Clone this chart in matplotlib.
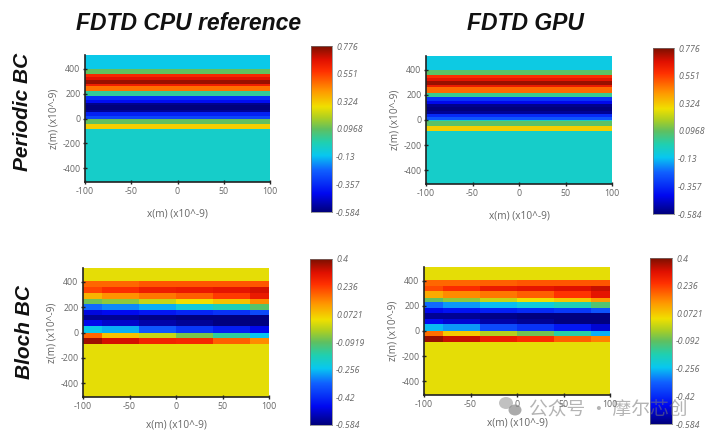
#!/usr/bin/env python3
# FDTD CPU / GPU field maps, periodic and Bloch boundary conditions
import matplotlib
matplotlib.use('Agg')
import matplotlib.pyplot as plt
import numpy as np
from matplotlib.colors import LinearSegmentedColormap
from matplotlib.patches import Ellipse

plt.rcParams['font.family'] = ['Open Sans', 'Noto Sans CJK SC', 'DejaVu Sans']
plt.rcParams['axes.unicode_minus'] = False

W, H = 725, 434

### Data ###
# periodic BC : one value per z band, no variation along x
periodic_z = [-510, -85, -45, -8, 0, 20, 50, 70, 105, 128, 150, 180, 218, 262, 280, 310, 335, 355, 395, 510]
periodic_cpu = [-0.055, 0.31, 0.10, -0.05, -0.30, -0.38, -0.55, -0.584, -0.56, -0.42, -0.35, 0.02, 0.47,
                0.62, 0.74, 0.66, 0.60, 0.10, -0.11]
periodic_gpu = [-0.055, 0.31, 0.09, -0.04, -0.27, -0.36, -0.55, -0.584, -0.56, -0.44, -0.34, 0.03, 0.48,
                0.63, 0.74, 0.65, 0.58, 0.09, -0.10]

# Bloch BC : bands along z (rows), columns along x
bloch_x = [-100, -80, -40, 0, 40, 80, 100]
bloch_z = [-510, -87, -40, 0, 52, 97, 140, 180, 228, 262, 315, 360, 405, 510]
bloch_cpu = [
    [0.03, 0.03, 0.03, 0.03, 0.03, 0.03],
    [0.37, 0.33, 0.28, 0.27, 0.20, 0.15],
    [0.19, 0.08, 0.00, -0.07, -0.15, -0.25],
    [-0.24, -0.27, -0.35, -0.40, -0.44, -0.48],
    [-0.48, -0.51, -0.54, -0.56, -0.58, -0.58],
    [-0.56, -0.56, -0.57, -0.58, -0.58, -0.58],
    [-0.49, -0.47, -0.45, -0.43, -0.41, -0.37],
    [-0.33, -0.30, -0.27, -0.22, -0.18, -0.10],
    [-0.08, -0.05, 0.00, 0.04, 0.08, 0.15],
    [0.10, 0.14, 0.17, 0.20, 0.24, 0.30],
    [0.23, 0.26, 0.29, 0.30, 0.31, 0.33],
    [0.19, 0.19, 0.21, 0.21, 0.21, 0.21],
    [0.03, 0.03, 0.03, 0.03, 0.03, 0.03],
]
bloch_gpu = [
    [0.03, 0.03, 0.03, 0.03, 0.03, 0.03],
    [0.38, 0.34, 0.29, 0.26, 0.20, 0.16],
    [0.18, 0.07, -0.02, -0.08, -0.16, -0.27],
    [-0.26, -0.29, -0.37, -0.41, -0.45, -0.50],
    [-0.47, -0.50, -0.54, -0.56, -0.58, -0.58],
    [-0.56, -0.56, -0.57, -0.58, -0.58, -0.58],
    [-0.48, -0.46, -0.44, -0.42, -0.40, -0.36],
    [-0.33, -0.29, -0.26, -0.22, -0.18, -0.11],
    [-0.09, -0.05, 0.00, 0.04, 0.07, 0.13],
    [0.11, 0.15, 0.17, 0.20, 0.25, 0.31],
    [0.22, 0.26, 0.30, 0.31, 0.32, 0.34],
    [0.19, 0.19, 0.20, 0.21, 0.21, 0.21],
    [0.03, 0.03, 0.03, 0.03, 0.03, 0.03],
]

periodic_range = (-0.584, 0.776)
bloch_range = (-0.584, 0.4)
periodic_ticks = ['0.776', '0.551', '0.324', '0.0968', '-0.13', '-0.357', '-0.584']
bloch_ticks_cpu = ['0.4', '0.236', '0.0721', '-0.0919', '-0.256', '-0.42', '-0.584']
bloch_ticks_gpu = ['0.4', '0.236', '0.0721', '-0.092', '-0.256', '-0.42', '-0.584']

x_ticks = [-100, -50, 0, 50, 100]
z_ticks = [-400, -200, 0, 200, 400]

cmap = LinearSegmentedColormap.from_list('fdtd', [
    (0.00, '#00007c'), (0.11, '#0008f0'), (0.25, '#1060ff'), (0.34, '#08c8f0'),
    (0.42, '#20d0b0'), (0.50, '#60c060'), (0.57, '#b0d020'), (0.635, '#f0e000'),
    (0.73, '#ff9800'), (0.85, '#ff3000'), (0.92, '#e01000'), (1.00, '#7c1000')])

fig = plt.figure(figsize=(W / 100, H / 100), dpi=100)
GREY = '#666666'


def axes_px(x0, y0, x1, y1):
    # axes from pixel box, y counted from the top of the picture
    return fig.add_axes([x0 / W, 1 - y1 / H, (x1 - x0) / W, (y1 - y0) / H])


def panel(box, cbox, x, z, values, vrange, labels, xpad):
    ax = axes_px(*box)
    ax.pcolormesh(x, z, np.array(values), cmap=cmap, vmin=vrange[0], vmax=vrange[1], shading='flat')
    ax.set_xlim(-100, 100)
    ax.set_ylim(-510, 510)
    ax.set_xticks(x_ticks)
    ax.set_yticks(z_ticks)
    ax.tick_params(labelsize=6.3, labelcolor=GREY, length=3.5, width=1, color='#222222', pad=1.5,
                   direction='inout')
    for s in ('top', 'right'):
        ax.spines[s].set_visible(False)
    for s in ('left', 'bottom'):
        ax.spines[s].set_linewidth(1.2)
        ax.spines[s].set_color('#222222')
    ax.set_xlabel('x(m) (x10^-9)', fontsize=7.3, color=GREY, labelpad=xpad)
    ax.set_ylabel('z(m) (x10^-9)', fontsize=7.3, color=GREY, labelpad=2)

    cax = axes_px(*cbox)
    grad = np.linspace(vrange[0], vrange[1], 256).reshape(-1, 1)
    cax.imshow(grad, cmap=cmap, vmin=vrange[0], vmax=vrange[1], origin='lower', aspect='auto',
               extent=[0, 1, vrange[0], vrange[1]])
    cax.set_xticks([])
    cax.yaxis.tick_right()
    cax.set_yticks(np.linspace(vrange[1], vrange[0], 7))
    cax.set_yticklabels(labels, fontsize=6.3, style='italic', color=GREY)
    cax.tick_params(length=0, pad=3)
    for s in cax.spines.values():
        s.set_linewidth(0.5)
        s.set_color('#777777')


periodic_x = [-100, 100]
panel((85, 55, 270, 182), (311, 46, 332, 212), periodic_x, periodic_z,
      np.array(periodic_cpu).reshape(-1, 1), periodic_range, periodic_ticks, 9)
panel((426, 56, 612, 184), (653, 48, 674, 214), periodic_x, periodic_z,
      np.array(periodic_gpu).reshape(-1, 1), periodic_range, periodic_ticks, 9)
panel((83, 268, 269, 397), (310, 259, 332, 425), bloch_x, bloch_z,
      bloch_cpu, bloch_range, bloch_ticks_cpu, 6.5)
panel((424, 267, 610, 395), (650, 258, 672, 424), bloch_x, bloch_z,
      bloch_gpu, bloch_range, bloch_ticks_gpu, 6.5)

title_font = dict(family='Liberation Sans', fontweight='bold', style='italic', color='#111111',
                  ha='center', va='center')
fig.text(189 / W, 1 - 23 / H, 'FDTD CPU reference', fontsize=16.5, **title_font)
fig.text(525 / W, 1 - 24 / H, 'FDTD GPU', fontsize=16.5, **title_font)
fig.text(23 / W, 1 - 112 / H, 'Periodic BC', rotation=90, fontsize=15, **title_font)
fig.text(25 / W, 1 - 332 / H, 'Bloch BC', rotation=90, fontsize=15, **title_font)

# watermark
fig.text(529 / W, 1 - 410 / H, '公众号 · 摩尔芯创', fontsize=13.5, color='#777777', alpha=0.55,
         family=['Noto Sans CJK SC', 'DejaVu Sans'], ha='left', va='center')
overlay = fig.add_axes([0, 0, 1, 1], facecolor='none')
overlay.set_xlim(0, W)
overlay.set_ylim(H, 0)
overlay.axis('off')
overlay.add_patch(Ellipse((506, 403), 14, 12, color='#999999', alpha=0.6, lw=0))
overlay.add_patch(Ellipse((515, 410), 13, 11, color='#888888', alpha=0.7, lw=0))

fig.savefig('out.png', dpi=100)
